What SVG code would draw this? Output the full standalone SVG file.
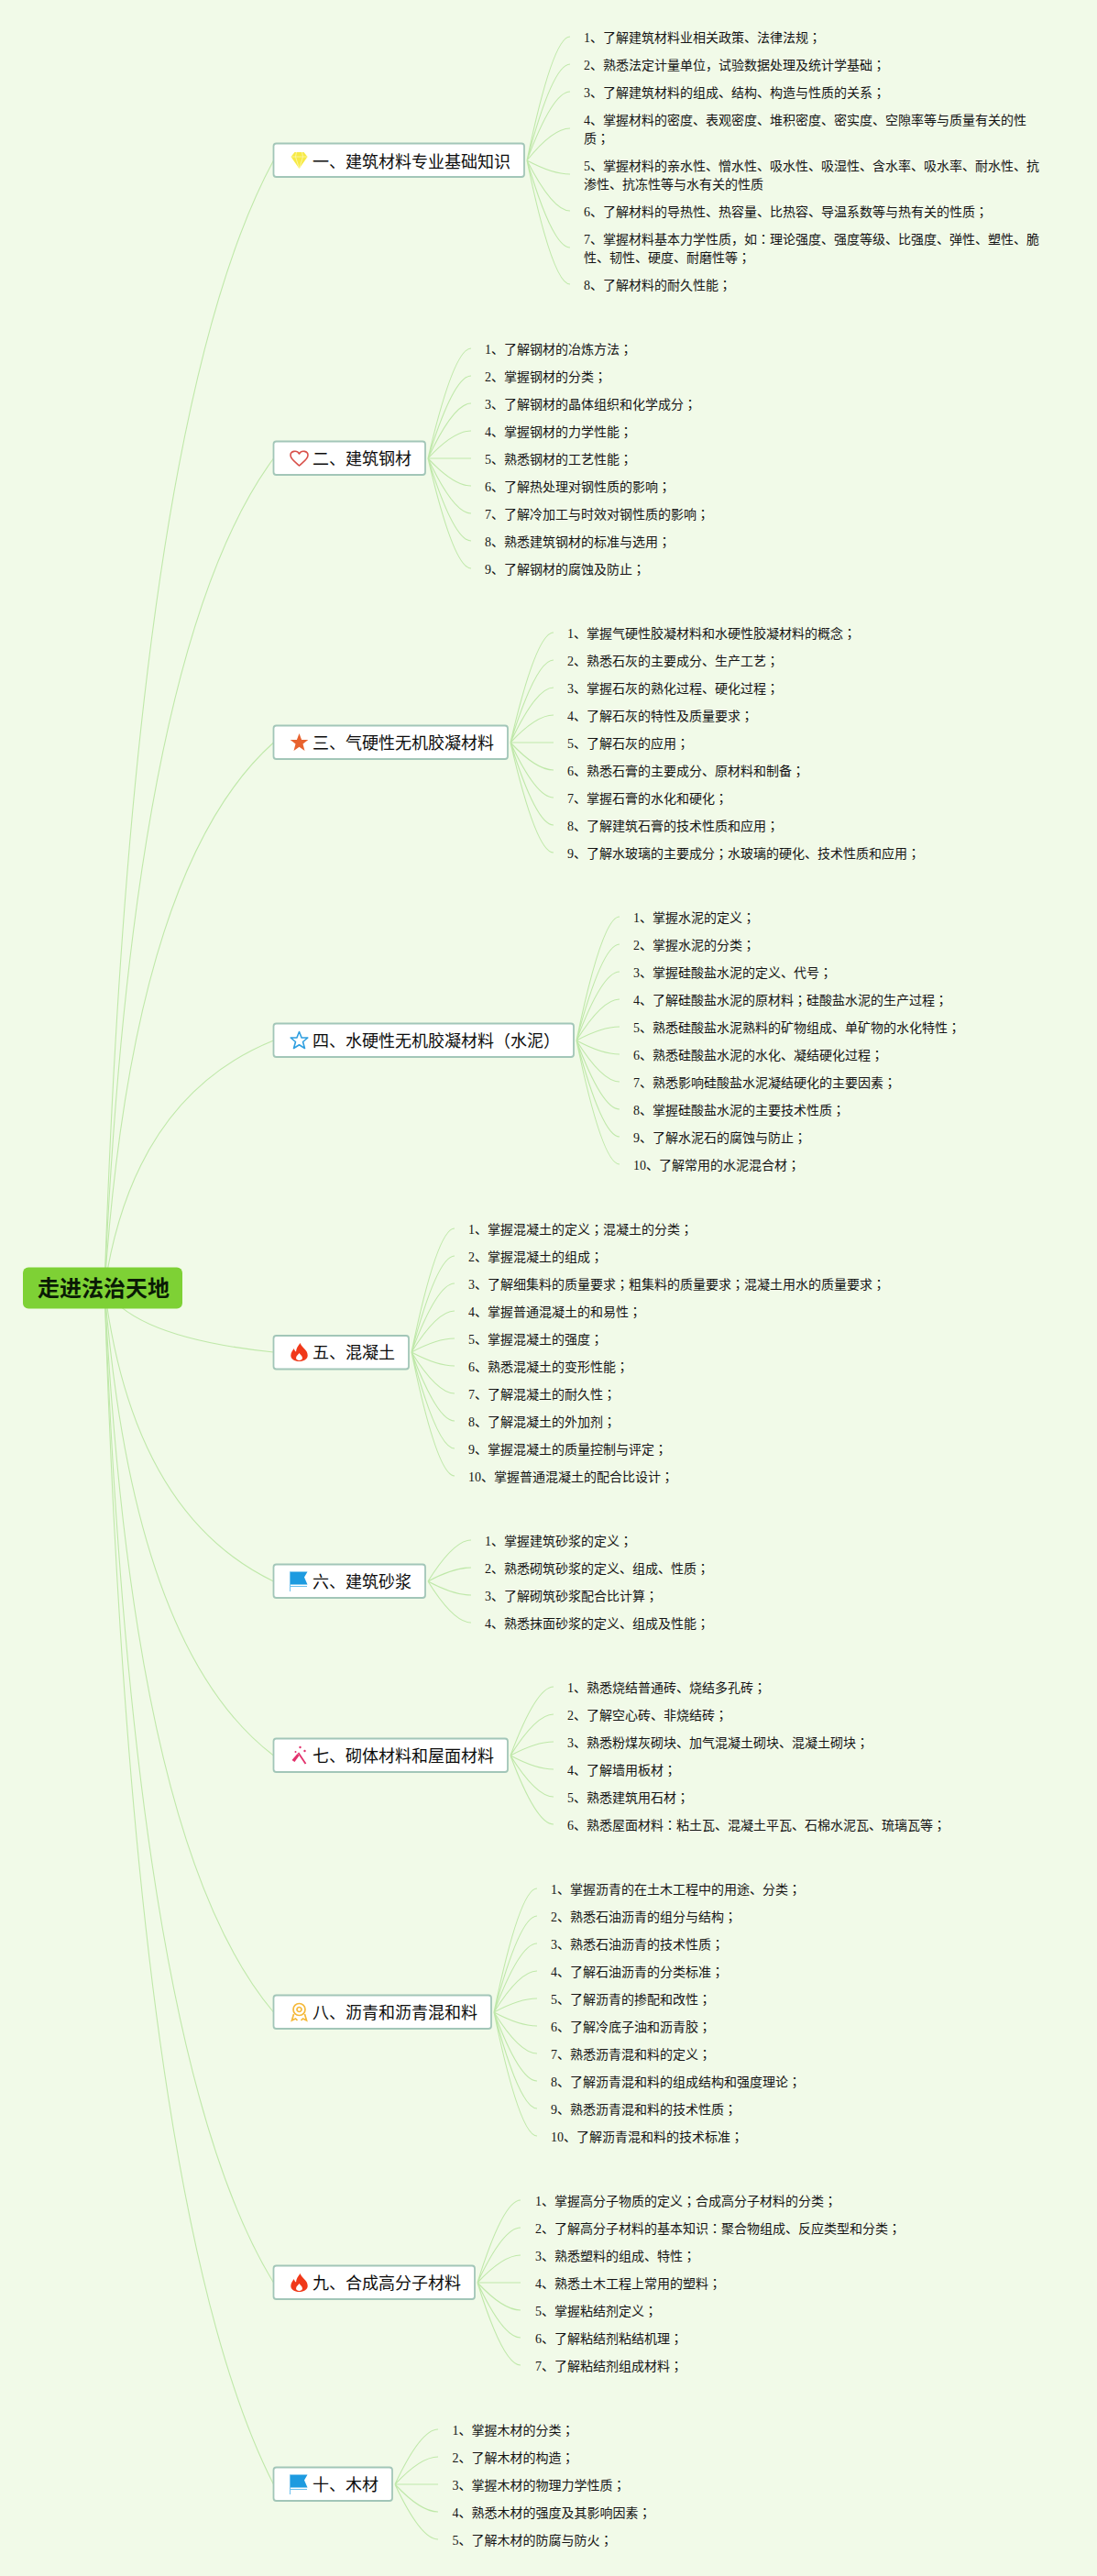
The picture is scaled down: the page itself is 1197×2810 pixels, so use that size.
<svg xmlns="http://www.w3.org/2000/svg" width="1197" height="2810" viewBox="0 0 1197 2810">
<style>
.c{fill:none;stroke:#bfe8a9;stroke-width:1.1}
.n{fill:#fff;stroke:#a2c6b8;stroke-width:1.8}
.t{font:18px "Noto Sans CJK SC","Noto Sans",sans-serif;fill:#0c0c0c}
.l{font:14px "Liberation Serif","Noto Sans CJK SC",serif;fill:#141414}
.p{font-family:"Noto Sans CJK TC","Noto Sans CJK SC",sans-serif}
.r{font:bold 24px "Noto Sans CJK SC","Noto Sans",sans-serif;fill:#0a1a05}
</style>
<defs>
<path id="flame" transform="scale(1.15 1)" d="M1-10C2-5 8-3 8 3.500C8 7.500 4.500 10 0 10C-4.500 10-8 7.500-8 3.500C-8 0-6-2-5-4C-4.500-2-4-1-3-.500C-3-4-1-7 1-10ZM0 1C-1 3-3 4-3 6.500C-3 8 -1.500 9 0 9C1.500 9 3 8 3 6.500C3 4 1 3 0 1Z" fill="#f0391a" fill-rule="evenodd"/>
<g id="flag"><path d="M-9.500-10.500H9.500L6-4.500L9.500 3.500H-9.500Z" fill="#1e9be0"/><path d="M-9.500-10.500V11M-9.500 5.500H9" stroke="#6cc0ee" stroke-width="1" fill="none"/></g>
</defs>
<rect width="1197" height="2810" fill="#f1fae8"/>
<g id="connectors">
<path class="c" d="M114 1405Q145 458 298.500 175"/>
<path class="c" d="M114 1405Q145 708 298.500 500"/>
<path class="c" d="M114 1405Q145 947 298.500 810"/>
<path class="c" d="M114 1405Q145 1197 298.500 1135"/>
<path class="c" d="M114 1405Q145 1459 298.500 1475"/>
<path class="c" d="M114 1405Q145 1651 298.500 1725"/>
<path class="c" d="M114 1405Q145 1798 298.500 1915"/>
<path class="c" d="M114 1405Q145 2013 298.500 2195"/>
<path class="c" d="M114 1405Q145 2240 298.500 2490"/>
<path class="c" d="M114 1405Q145 2410 298.500 2710"/>
<path class="c" d="M575 175Q603 40 622 40M575 175Q603 70 622 70M575 175Q603 100 622 100M575 175Q603 140 622 140M575 175Q603 190 622 190M575 175Q603 230 622 230M575 175Q603 270 622 270M575 175Q603 310 622 310"/>
<path class="c" d="M467 500Q495 380 514 380M467 500Q495 410 514 410M467 500Q495 440 514 440M467 500Q495 470 514 470M467 500H514M467 500Q495 530 514 530M467 500Q495 560 514 560M467 500Q495 590 514 590M467 500Q495 620 514 620"/>
<path class="c" d="M557 810Q585 690 604 690M557 810Q585 720 604 720M557 810Q585 750 604 750M557 810Q585 780 604 780M557 810H604M557 810Q585 840 604 840M557 810Q585 870 604 870M557 810Q585 900 604 900M557 810Q585 930 604 930"/>
<path class="c" d="M629 1135Q657 1000 676 1000M629 1135Q657 1030 676 1030M629 1135Q657 1060 676 1060M629 1135Q657 1090 676 1090M629 1135Q657 1120 676 1120M629 1135Q657 1150 676 1150M629 1135Q657 1180 676 1180M629 1135Q657 1210 676 1210M629 1135Q657 1240 676 1240M629 1135Q657 1270 676 1270"/>
<path class="c" d="M449 1475Q477 1340 496 1340M449 1475Q477 1370 496 1370M449 1475Q477 1400 496 1400M449 1475Q477 1430 496 1430M449 1475Q477 1460 496 1460M449 1475Q477 1490 496 1490M449 1475Q477 1520 496 1520M449 1475Q477 1550 496 1550M449 1475Q477 1580 496 1580M449 1475Q477 1610 496 1610"/>
<path class="c" d="M467 1725Q495 1680 514 1680M467 1725Q495 1710 514 1710M467 1725Q495 1740 514 1740M467 1725Q495 1770 514 1770"/>
<path class="c" d="M557 1915Q585 1840 604 1840M557 1915Q585 1870 604 1870M557 1915Q585 1900 604 1900M557 1915Q585 1930 604 1930M557 1915Q585 1960 604 1960M557 1915Q585 1990 604 1990"/>
<path class="c" d="M539 2195Q567 2060 586 2060M539 2195Q567 2090 586 2090M539 2195Q567 2120 586 2120M539 2195Q567 2150 586 2150M539 2195Q567 2180 586 2180M539 2195Q567 2210 586 2210M539 2195Q567 2240 586 2240M539 2195Q567 2270 586 2270M539 2195Q567 2300 586 2300M539 2195Q567 2330 586 2330"/>
<path class="c" d="M521 2490Q549 2400 568 2400M521 2490Q549 2430 568 2430M521 2490Q549 2460 568 2460M521 2490H568M521 2490Q549 2520 568 2520M521 2490Q549 2550 568 2550M521 2490Q549 2580 568 2580"/>
<path class="c" d="M431 2710Q459 2650 478 2650M431 2710Q459 2680 478 2680M431 2710H478M431 2710Q459 2740 478 2740M431 2710Q459 2770 478 2770"/>
</g>
<g id="root"><rect x="25" y="1382.500" width="174" height="45" rx="6" fill="#7ed135"/><text class="r" x="41" y="1414">走进法治天地</text></g>
<g id="node1"><rect class="n" x="298.500" y="156.500" width="273.500" height="36.500" rx="3"/>
<g transform="translate(326.500 175)"><path d="M-5-9H5L9-4L0 9L-9-4Z" fill="#f7ea45"/><path d="M-9-4H9M-3-9L-4-4L0 9L4-4L3-9" fill="none" stroke="#fdf7b0" stroke-width=".8"/></g>
<text class="t" x="341" y="182.500">一、建筑材料专业基础知识</text></g>
<g id="leaves1" class="l"><text x="637" y="46">1、了解建筑材料业相关政策、法律法规<tspan class="p">；</tspan></text><text x="637" y="76">2、熟悉法定计量单位，试验数据处理及统计学基础<tspan class="p">；</tspan></text><text x="637" y="106">3、了解建筑材料的组成、结构、构造与性质的关系<tspan class="p">；</tspan></text><text x="637" y="136">4、掌握材料的密度、表观密度、堆积密度、密实度、空隙率等与质量有关的性</text><text x="637" y="156">质<tspan class="p">；</tspan></text><text x="637" y="186">5、掌握材料的亲水性、憎水性、吸水性、吸湿性、含水率、吸水率、耐水性、抗</text><text x="637" y="206">渗性、抗冻性等与水有关的性质</text><text x="637" y="236">6、了解材料的导热性、热容量、比热容、导温系数等与热有关的性质<tspan class="p">；</tspan></text><text x="637" y="266">7、掌握材料基本力学性质，如<tspan class="p">：</tspan>理论强度、强度等级、比强度、弹性、塑性、脆</text><text x="637" y="286">性、韧性、硬度、耐磨性等<tspan class="p">；</tspan></text><text x="637" y="316">8、了解材料的耐久性能<tspan class="p">；</tspan></text></g>
<g id="node2"><rect class="n" x="298.500" y="481.500" width="165.500" height="36.500" rx="3"/>
<path transform="translate(326.500 500)" d="M0 8C-3 5-9.500 1-9.500-3.500C-9.500-8-2.500-9.500 0-5C2.500-9.500 9.500-8 9.500-3.500C9.500 1 3 5 0 8Z" fill="none" stroke="#d8504a" stroke-width="1.600" stroke-linejoin="round"/>
<text class="t" x="341" y="507">二、建筑钢材</text></g>
<g id="leaves2" class="l"><text x="529" y="386">1、了解钢材的冶炼方法<tspan class="p">；</tspan></text><text x="529" y="416">2、掌握钢材的分类<tspan class="p">；</tspan></text><text x="529" y="446">3、了解钢材的晶体组织和化学成分<tspan class="p">；</tspan></text><text x="529" y="476">4、掌握钢材的力学性能<tspan class="p">；</tspan></text><text x="529" y="506">5、熟悉钢材的工艺性能<tspan class="p">；</tspan></text><text x="529" y="536">6、了解热处理对钢性质的影响<tspan class="p">；</tspan></text><text x="529" y="566">7、了解冷加工与时效对钢性质的影响<tspan class="p">；</tspan></text><text x="529" y="596">8、熟悉建筑钢材的标准与选用<tspan class="p">；</tspan></text><text x="529" y="626">9、了解钢材的腐蚀及防止<tspan class="p">；</tspan></text></g>
<g id="node3"><rect class="n" x="298.500" y="791.500" width="255.500" height="36.500" rx="3"/>
<polygon transform="translate(326.500 810)" points="0,-10 2.600,-3 9.800,-3 4,1.500 6,9 0,4.800 -6,9 -4,1.500 -9.800,-3 -2.600,-3" fill="#e8622e"/>
<text class="t" x="341" y="817">三、气硬性无机胶凝材料</text></g>
<g id="leaves3" class="l"><text x="619" y="696">1、掌握气硬性胶凝材料和水硬性胶凝材料的概念<tspan class="p">；</tspan></text><text x="619" y="726">2、熟悉石灰的主要成分、生产工艺<tspan class="p">；</tspan></text><text x="619" y="756">3、掌握石灰的熟化过程、硬化过程<tspan class="p">；</tspan></text><text x="619" y="786">4、了解石灰的特性及质量要求<tspan class="p">；</tspan></text><text x="619" y="816">5、了解石灰的应用<tspan class="p">；</tspan></text><text x="619" y="846">6、熟悉石膏的主要成分、原材料和制备<tspan class="p">；</tspan></text><text x="619" y="876">7、掌握石膏的水化和硬化<tspan class="p">；</tspan></text><text x="619" y="906">8、了解建筑石膏的技术性质和应用<tspan class="p">；</tspan></text><text x="619" y="936">9、了解水玻璃的主要成分<tspan class="p">；</tspan>水玻璃的硬化、技术性质和应用<tspan class="p">；</tspan></text></g>
<g id="node4"><rect class="n" x="298.500" y="1116.500" width="327.500" height="36.500" rx="3"/>
<polygon transform="translate(326.500 1135)" points="0,-9.500 2.600,-3 9.300,-3 4,1.500 6,8.500 0,4.800 -6,8.500 -4,1.500 -9.300,-3 -2.600,-3" fill="none" stroke="#2f9fe0" stroke-width="1.600" stroke-linejoin="round"/>
<text class="t" x="341" y="1142">四、水硬性无机胶凝材料（水泥）</text></g>
<g id="leaves4" class="l"><text x="691" y="1006">1、掌握水泥的定义<tspan class="p">；</tspan></text><text x="691" y="1036">2、掌握水泥的分类<tspan class="p">；</tspan></text><text x="691" y="1066">3、掌握硅酸盐水泥的定义、代号<tspan class="p">；</tspan></text><text x="691" y="1096">4、了解硅酸盐水泥的原材料<tspan class="p">；</tspan>硅酸盐水泥的生产过程<tspan class="p">；</tspan></text><text x="691" y="1126">5、熟悉硅酸盐水泥熟料的矿物组成、单矿物的水化特性<tspan class="p">；</tspan></text><text x="691" y="1156">6、熟悉硅酸盐水泥的水化、凝结硬化过程<tspan class="p">；</tspan></text><text x="691" y="1186">7、熟悉影响硅酸盐水泥凝结硬化的主要因素<tspan class="p">；</tspan></text><text x="691" y="1216">8、掌握硅酸盐水泥的主要技术性质<tspan class="p">；</tspan></text><text x="691" y="1246">9、了解水泥石的腐蚀与防止<tspan class="p">；</tspan></text><text x="691" y="1276">10、了解常用的水泥混合材<tspan class="p">；</tspan></text></g>
<g id="node5"><rect class="n" x="298.500" y="1457" width="147.500" height="36.500" rx="3"/>
<g transform="translate(326.500 1475)"><use href="#flame"/></g>
<text class="t" x="341" y="1482">五、混凝土</text></g>
<g id="leaves5" class="l"><text x="511" y="1346">1、掌握混凝土的定义<tspan class="p">；</tspan>混凝土的分类<tspan class="p">；</tspan></text><text x="511" y="1376">2、掌握混凝土的组成<tspan class="p">；</tspan></text><text x="511" y="1406">3、了解细集料的质量要求<tspan class="p">；</tspan>粗集料的质量要求<tspan class="p">；</tspan>混凝土用水的质量要求<tspan class="p">；</tspan></text><text x="511" y="1436">4、掌握普通混凝土的和易性<tspan class="p">；</tspan></text><text x="511" y="1466">5、掌握混凝土的强度<tspan class="p">；</tspan></text><text x="511" y="1496">6、熟悉混凝土的变形性能<tspan class="p">；</tspan></text><text x="511" y="1526">7、了解混凝土的耐久性<tspan class="p">；</tspan></text><text x="511" y="1556">8、了解混凝土的外加剂<tspan class="p">；</tspan></text><text x="511" y="1586">9、掌握混凝土的质量控制与评定<tspan class="p">；</tspan></text><text x="511" y="1616">10、掌握普通混凝土的配合比设计<tspan class="p">；</tspan></text></g>
<g id="node6"><rect class="n" x="298.500" y="1706.500" width="165.500" height="36.500" rx="3"/>
<use href="#flag" x="326" y="1725"/>
<text class="t" x="341" y="1732">六、建筑砂浆</text></g>
<g id="leaves6" class="l"><text x="529" y="1686">1、掌握建筑砂浆的定义<tspan class="p">；</tspan></text><text x="529" y="1716">2、熟悉砌筑砂浆的定义、组成、性质<tspan class="p">；</tspan></text><text x="529" y="1746">3、了解砌筑砂浆配合比计算<tspan class="p">；</tspan></text><text x="529" y="1776">4、熟悉抹面砂浆的定义、组成及性能<tspan class="p">；</tspan></text></g>
<g id="node7"><rect class="n" x="298.500" y="1896.500" width="255.500" height="36.500" rx="3"/>
<g transform="translate(326.500 1915)" fill="#e2306c"><path d="M-1-3L7 9" stroke="#e2306c" stroke-width="1.800"/><path d="M-2-2L-8 5L-5 7L0 0Z"/><circle cx="1" cy="-9" r="1.200"/><circle cx="-4" cy="-4" r="1"/><circle cx="6" cy="-5" r="1.200"/></g>
<text class="t" x="341" y="1922">七、砌体材料和屋面材料</text></g>
<g id="leaves7" class="l"><text x="619" y="1846">1、熟悉烧结普通砖、烧结多孔砖<tspan class="p">；</tspan></text><text x="619" y="1876">2、了解空心砖、非烧结砖<tspan class="p">；</tspan></text><text x="619" y="1906">3、熟悉粉煤灰砌块、加气混凝土砌块、混凝土砌块<tspan class="p">；</tspan></text><text x="619" y="1936">4、了解墙用板材<tspan class="p">；</tspan></text><text x="619" y="1966">5、熟悉建筑用石材<tspan class="p">；</tspan></text><text x="619" y="1996">6、熟悉屋面材料<tspan class="p">：</tspan>粘土瓦、混凝土平瓦、石棉水泥瓦、琉璃瓦等<tspan class="p">；</tspan></text></g>
<g id="node8"><rect class="n" x="298.500" y="2176.500" width="237.500" height="36.500" rx="3"/>
<g transform="translate(326.500 2195)" fill="none" stroke="#f5b93a" stroke-width="1.700"><circle cy="-3" r="6.500"/><circle cy="-3" r="2.500"/><path d="M-6 2L-8 9L-4 7L-2 9M6 2L8 9L4 7L2 9"/></g>
<text class="t" x="341" y="2202">八、沥青和沥青混和料</text></g>
<g id="leaves8" class="l"><text x="601" y="2066">1、掌握沥青的在土木工程中的用途、分类<tspan class="p">；</tspan></text><text x="601" y="2096">2、熟悉石油沥青的组分与结构<tspan class="p">；</tspan></text><text x="601" y="2126">3、熟悉石油沥青的技术性质<tspan class="p">；</tspan></text><text x="601" y="2156">4、了解石油沥青的分类标准<tspan class="p">；</tspan></text><text x="601" y="2186">5、了解沥青的掺配和改性<tspan class="p">；</tspan></text><text x="601" y="2216">6、了解冷底子油和沥青胶<tspan class="p">；</tspan></text><text x="601" y="2246">7、熟悉沥青混和料的定义<tspan class="p">；</tspan></text><text x="601" y="2276">8、了解沥青混和料的组成结构和强度理论<tspan class="p">；</tspan></text><text x="601" y="2306">9、熟悉沥青混和料的技术性质<tspan class="p">；</tspan></text><text x="601" y="2336">10、了解沥青混和料的技术标准<tspan class="p">；</tspan></text></g>
<g id="node9"><rect class="n" x="298.500" y="2471.500" width="219.500" height="36.500" rx="3"/>
<g transform="translate(326.500 2490)"><use href="#flame"/></g>
<text class="t" x="341" y="2497">九、合成高分子材料</text></g>
<g id="leaves9" class="l"><text x="584" y="2406">1、掌握高分子物质的定义<tspan class="p">；</tspan>合成高分子材料的分类<tspan class="p">；</tspan></text><text x="584" y="2436">2、了解高分子材料的基本知识<tspan class="p">：</tspan>聚合物组成、反应类型和分类<tspan class="p">；</tspan></text><text x="584" y="2466">3、熟悉塑料的组成、特性<tspan class="p">；</tspan></text><text x="584" y="2496">4、熟悉土木工程上常用的塑料<tspan class="p">；</tspan></text><text x="584" y="2526">5、掌握粘结剂定义<tspan class="p">；</tspan></text><text x="584" y="2556">6、了解粘结剂粘结机理<tspan class="p">；</tspan></text><text x="584" y="2586">7、了解粘结剂组成材料<tspan class="p">；</tspan></text></g>
<g id="node10"><rect class="n" x="298.500" y="2691.500" width="129.500" height="36.500" rx="3"/>
<use href="#flag" x="326" y="2710"/>
<text class="t" x="341" y="2717">十、木材</text></g>
<g id="leaves10" class="l"><text x="493.500" y="2656">1、掌握木材的分类<tspan class="p">；</tspan></text><text x="493.500" y="2686">2、了解木材的构造<tspan class="p">；</tspan></text><text x="493.500" y="2716">3、掌握木材的物理力学性质<tspan class="p">；</tspan></text><text x="493.500" y="2746">4、熟悉木材的强度及其影响因素<tspan class="p">；</tspan></text><text x="493.500" y="2776">5、了解木材的防腐与防火<tspan class="p">；</tspan></text></g>
</svg>
